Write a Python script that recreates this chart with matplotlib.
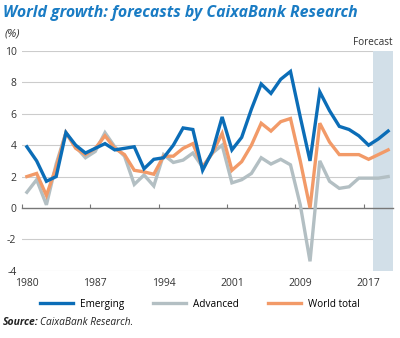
import matplotlib
matplotlib.use("Agg")
import matplotlib.pyplot as plt
import matplotlib.transforms as mtransforms
from matplotlib.lines import Line2D

years = list(range(1980, 2018))
emerging = [3.9, 3.0, 1.7, 2.0, 4.8, 4.0, 3.5, 3.8, 4.1, 3.7, 3.8, 3.9, 2.5, 3.1, 3.2,
            4.0, 5.1, 5.0, 2.4, 3.6, 5.8, 3.7, 4.5, 6.3, 7.9, 7.3, 8.2, 8.7, 5.8, 3.0,
            7.4, 6.2, 5.2, 5.0, 4.6, 4.0, 4.4, 4.9]
advanced = [1.0, 1.8, 0.2, 2.8, 4.8, 3.9, 3.2, 3.6, 4.8, 3.9, 3.3, 1.5, 2.1, 1.4, 3.4,
            2.9, 3.05, 3.5, 2.6, 3.5, 4.0, 1.6, 1.8, 2.2, 3.2, 2.8, 3.1, 2.75, 0.2, -3.4,
            3.0, 1.7, 1.25, 1.35, 1.9, 1.9, 1.9, 2.0]
world = [2.0, 2.2, 0.8, 2.6, 4.8, 3.8, 3.4, 3.8, 4.6, 3.8, 3.4, 2.4, 2.3, 2.15, 3.3,
         3.3, 3.8, 4.1, 2.6, 3.5, 4.75, 2.4, 2.95, 4.0, 5.4, 4.9, 5.5, 5.7, 3.0, 0.0,
         5.4, 4.2, 3.4, 3.4, 3.4, 3.1, 3.4, 3.7]
tick_years = [1980, 1987, 1994, 2001, 2008, 2015]
tick_labels = ["1980", "1987", "1994", "2001", "2009", "2017"]
forecast_years = [2016, 2017]
yticks = [-4, -2, 0, 2, 4, 6, 8, 10]

BLUE = "#0b6db7"
GRAY = "#b3bfc3"
ORANGE = "#f29a68"
BAND = "#d2dfe8"
TITLE = "#1a7cc4"
TXT = "#333333"

plt.rcParams['font.family'] = ['Open Sans', 'DejaVu Sans']

fig = plt.figure(figsize=(4.0, 3.38), dpi=100)
ax = fig.add_axes([0.055, 0.199, 0.9275, 0.650])

ax.set_xlim(years[0] - 0.5, years[-1] + 0.5)
ax.set_ylim(-4, 10)

for v in yticks:
    if v != 0:
        ax.axhline(v, color="#cccccc", lw=0.8, zorder=1)
ax.axvspan(forecast_years[0] - 0.5, forecast_years[-1] + 0.5, color=BAND, zorder=2, lw=0)

ax.plot(years, advanced, color=GRAY, lw=2.4, zorder=4, solid_joinstyle='miter')
ax.plot(years, world, color=ORANGE, lw=2.4, zorder=5, solid_joinstyle='miter')
ax.plot(years, emerging, color=BLUE, lw=2.4, zorder=6, solid_joinstyle='miter')

for s in ['top', 'right', 'left']:
    ax.spines[s].set_visible(False)
ax.spines['bottom'].set_position(('data', 0))
ax.spines['bottom'].set_color("#777777")
ax.spines['bottom'].set_linewidth(1.0)
ax.spines['bottom'].set_zorder(3)
ax.set_xticks([t - 0.5 for t in tick_years])
ax.set_xticklabels([])
ax.tick_params(axis='x', direction='in', length=3, width=0.8, color="#777777")

ax.set_yticks(yticks)
ax.set_yticklabels([str(v) for v in yticks], fontsize=7.5, color=TXT)
ax.tick_params(axis='y', length=0, pad=4)

trans = mtransforms.blended_transform_factory(ax.transData, ax.transAxes)
for ty, tl in zip(tick_years, tick_labels):
    ax.text(ty, -0.035, tl, transform=trans, ha='center', va='top', fontsize=7.5, color=TXT)

ax.text(forecast_years[-1] + 0.5, 1.015, "Forecast", transform=trans, ha='right', va='bottom',
        fontsize=7.2, color=TXT)

fig.text(0.008, 0.962, "World growth: forecasts by CaixaBank Research", fontsize=11.4,
         fontweight='bold', style='italic', color=TITLE, ha='left', va='center')
fig.text(0.012, 0.90, "(%)", fontsize=8.2, style='italic', color=TXT, ha='left', va='center')

handles = [Line2D([], [], color=BLUE, lw=2.4),
           Line2D([], [], color=GRAY, lw=2.4),
           Line2D([], [], color=ORANGE, lw=2.4)]
fig.legend(handles, ["Emerging", "Advanced", "World total"], loc='center',
           bbox_to_anchor=(0.5, 0.10), ncol=3, frameon=False, fontsize=7.2,
           handlelength=3.3, columnspacing=2.9, handletextpad=0.7)

fig.text(0.008, 0.045, "Source:", fontsize=7.5, fontweight='bold', style='italic',
         color="#222222", ha='left', va='center')
fig.text(0.101, 0.045, "CaixaBank Research.", fontsize=7.3, style='italic',
         color="#222222", ha='left', va='center')

fig.savefig("out.png", dpi=100)
